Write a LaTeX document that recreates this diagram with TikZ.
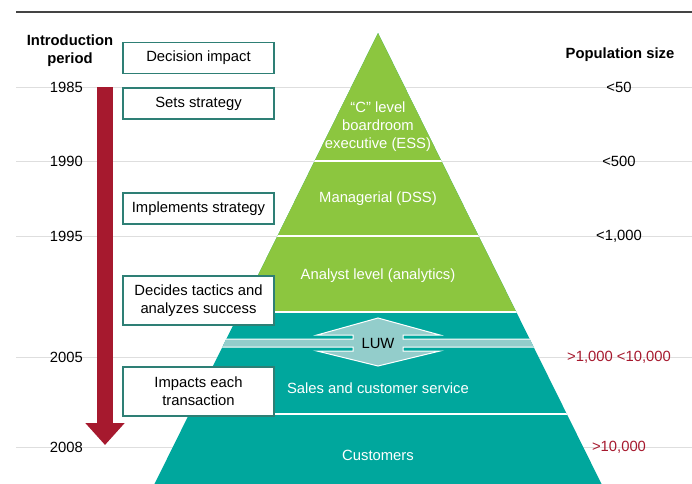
\documentclass[tikz,border=0pt]{standalone}
\usepackage{fontspec}
\setmainfont{Liberation Sans}
\usetikzlibrary{arrows.meta}
\definecolor{leafgreen}{HTML}{8CC63F}
\definecolor{seateal}{HTML}{00A79D}
\definecolor{paleteal}{HTML}{93CDCB}
\definecolor{boxteal}{HTML}{2E7F75}
\definecolor{wine}{HTML}{A6192E}
\definecolor{rulegray}{HTML}{444444}
\definecolor{gridgray}{HTML}{DEDEDE}
\begin{document}
\begin{tikzpicture}
  [x=1pt,y=-1pt,every node/.style={font=\fontsize{14.8}{18}\selectfont,align=center,inner sep=0pt},
   box/.style={draw=boxteal,line width=1.2pt,fill=white,minimum width=151pt},
   layer/.style={text=white}]
  \useasboundingbox (0,0) rectangle (692,483);
  \draw[rulegray,line width=1.3pt] (16,12) -- (692,12);
  \foreach \y in {87,161,236,357,447}
    \draw[gridgray,line width=.9pt] (16,\y) -- (692,\y);
  % pyramid
  \begin{scope}
    \clip (378,33) -- (151.5,490) -- (604.5,490) -- cycle;
    \fill[seateal] (0,0) rectangle (692,490);
    \fill[leafgreen] (0,0) rectangle (692,312);
    \foreach \y in {161,236,312,414}
      \draw[white,line width=1.2pt] (0,\y) -- (692,\y);
    \filldraw[fill=paleteal,draw=white,line width=1pt]
      (140,339) -- (353,339) -- (353,335) -- (317,335) -- (378,318) -- (440,335)
      -- (403,335) -- (403,339) -- (620,339) -- (620,347) -- (403,347) -- (403,351)
      -- (440,351) -- (378,366) -- (317,351) -- (353,351) -- (353,347) -- (140,347) -- cycle;
  \end{scope}
  \node (ess)[layer] at (378,127) {“C” level\\boardroom\\executive (ESS)};
  \node (dss)[layer] at (378,199) {Managerial (DSS)};
  \node (analyst)[layer] at (378,276) {Analyst level (analytics)};
  \node (luw) at (378,343) {LUW};
  \node (sales)[layer] at (378,388) {Sales and customer service};
  \node (customers)[layer] at (378,455) {Customers};
  % left side
  \node (intro) at (70,51) {\bfseries Introduction\\\bfseries period};
  \foreach \yr/\y in {1985/87,1990/161,1995/236,2005/357,2008/447}
    \node (y\yr)[anchor=east] at (83,\y) {\yr};
  \coordinate (start) at (105,87);
  \coordinate (end) at (105,445);
  \draw[wine,line width=16pt,-{Triangle[width=38pt,length=22pt]}] (start) -- (end);
  \node (impact)[box,minimum height=31pt] at (198.5,58) {Decision impact};
  \node (sets)[box,minimum height=31pt] at (198.5,103.5) {Sets strategy};
  \node (implements)[box,minimum height=31pt] at (198.5,208.5) {Implements strategy};
  \node (decides)[box,minimum height=49pt] at (198.5,300.5) {Decides tactics and\\analyzes success};
  \node (impacts)[box,minimum height=49pt] at (198.5,391.5) {Impacts each\\transaction};
  % right side
  \node (popsize) at (620,55) {\bfseries Population size};
  \foreach \v/\y/\c [count=\i] in {{<50}/87/black,{<500}/161/black,{<1,000}/236/black,
      {>1,000 <10,000}/357/wine,{>10,000}/447/wine}
    \node (pop\i)[text=\c] at (619,\y) {\v};
\end{tikzpicture}
\end{document}
